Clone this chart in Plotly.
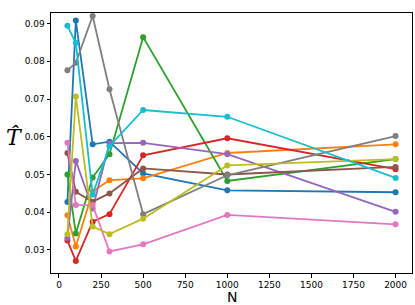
import plotly.graph_objects as go

N = [50, 100, 200, 300, 500, 1000, 2000]

s_blue   = [0.0427, 0.0908, 0.0580, 0.0587, 0.0503, 0.0458, 0.0453]
s_orange = [0.0392, 0.0309, 0.0455, 0.0485, 0.0490, 0.0557, 0.0580]
s_green  = [0.0500, 0.0344, 0.0492, 0.0554, 0.0864, 0.0483, 0.0541]
s_red    = [0.0325, 0.0271, 0.0375, 0.0395, 0.0551, 0.0596, 0.0514]
s_purple = [0.0332, 0.0536, 0.0410, 0.0583, 0.0584, 0.0554, 0.0401]
s_brown  = [0.0557, 0.0454, 0.0428, 0.0450, 0.0516, 0.0500, 0.0520]
s_pink   = [0.0584, 0.0419, 0.0419, 0.0296, 0.0315, 0.0393, 0.0368]
s_gray   = [0.0776, 0.0796, 0.0920, 0.0726, 0.0395, 0.0498, 0.0602]
s_olive  = [0.0342, 0.0707, 0.0362, 0.0342, 0.0383, 0.0524, 0.0541]
s_cyan   = [0.0894, 0.0849, 0.0447, 0.0575, 0.0671, 0.0653, 0.0491]

series = [s_blue, s_orange, s_green, s_red, s_purple, s_brown, s_pink, s_gray, s_olive, s_cyan]
colors = ["#1f77b4", "#ff7f0e", "#2ca02c", "#d62728", "#9467bd",
          "#8c564b", "#e377c2", "#7f7f7f", "#bcbd22", "#17becf"]

x_ticks = [0, 250, 500, 750, 1000, 1250, 1500, 1750, 2000]
y_ticks = [0.03, 0.04, 0.05, 0.06, 0.07, 0.08, 0.09]

fig = go.Figure()
for ys, c in zip(series, colors):
    fig.add_trace(go.Scatter(x=N, y=ys, mode="lines+markers",
                             line=dict(color=c, width=1.8),
                             marker=dict(color=c, size=6),
                             showlegend=False))

axis_common = dict(showline=True, linecolor="black", linewidth=1, mirror=True,
                   ticks="outside", ticklen=3.5, tickwidth=0.8, tickcolor="black",
                   showgrid=False, zeroline=False,
                   tickfont=dict(family="DejaVu Sans", size=9, color="black"))

fig.update_layout(
    width=415, height=305,
    margin=dict(l=51, r=3, t=13, b=32),
    plot_bgcolor="white", paper_bgcolor="white",
    xaxis=dict(range=[-47.5, 2097.5], tickvals=x_ticks, **axis_common),
    yaxis=dict(range=[0.0239, 0.0928], tickvals=y_ticks, tickformat=".2f", **axis_common),
    annotations=[
        dict(text="N", x=0.5, xref="paper", y=-0.094, yref="paper",
             xanchor="center", yanchor="middle", showarrow=False,
             font=dict(family="DejaVu Sans", size=14, color="black")),
        dict(text="<i>T̂</i>", x=-0.102, xref="paper", y=0.52, yref="paper",
             xanchor="center", yanchor="middle", showarrow=False,
             font=dict(family="DejaVu Serif", size=22, color="black")),
    ],
)
fig.write_html("out.html", config={"displayModeBar": False},
               post_script="document.body.style.margin='0';document.body.style.overflow='hidden';")
